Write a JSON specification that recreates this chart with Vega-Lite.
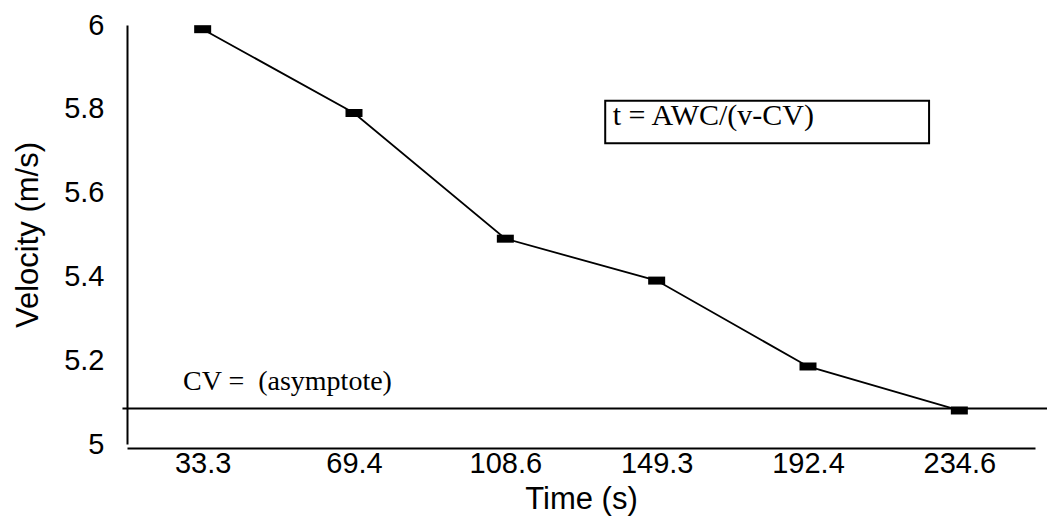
{
  "$schema": "https://vega.github.io/schema/vega-lite/v6.json",
  "width": 908,
  "height": 419,
  "autosize": "none",
  "padding": {"left": 127, "top": 25, "right": 12, "bottom": 78},
  "background": "white",
  "config": {
    "view": {"stroke": null},
    "font": "Liberation Sans",
    "axis": {
      "labelFont": "Liberation Sans",
      "titleFont": "Liberation Sans",
      "labelColor": "black",
      "titleColor": "black",
      "domainColor": "black",
      "domainWidth": 2,
      "titleFontWeight": "normal",
      "grid": false,
      "ticks": false
    }
  },
  "data": {
    "values": [
      {"time": "33.3", "velocity": 5.99},
      {"time": "69.4", "velocity": 5.79},
      {"time": "108.6", "velocity": 5.49},
      {"time": "149.3", "velocity": 5.39},
      {"time": "192.4", "velocity": 5.185},
      {"time": "234.6", "velocity": 5.08}
    ]
  },
  "layer": [
    {
      "encoding": {
        "x": {
          "field": "time",
          "type": "ordinal",
          "sort": null,
          "scale": {"type": "point", "padding": 0.5},
          "axis": {
            "title": "Time (s)",
            "labelAngle": 0,
            "labelFontSize": 29,
            "titleFontSize": 31,
            "labelPadding": 1,
            "titlePadding": 6,
            "offset": 4
          }
        },
        "y": {
          "field": "velocity",
          "type": "quantitative",
          "scale": {"domain": [5, 6], "nice": false, "zero": false},
          "axis": {
            "title": "Velocity (m/s)",
            "values": [5, 5.2, 5.4, 5.6, 5.8, 6],
            "format": "~f",
            "labelFontSize": 29,
            "titleFontSize": 31,
            "labelPadding": 23,
            "titlePadding": 19
          }
        }
      },
      "layer": [
        {"mark": {"type": "line", "color": "black", "strokeWidth": 1.8}},
        {"mark": {"type": "tick", "orient": "horizontal", "size": 17, "thickness": 8, "color": "black", "opacity": 1}}
      ]
    },
    {
      "data": {"values": [{"note": "CV = \u00a0(asymptote)", "formula": "t = AWC/(v-CV)"}]},
      "layer": [
        {
          "mark": {"type": "rule", "color": "black", "strokeWidth": 2, "clip": false},
          "encoding": {
            "x": {"datum": -0.03, "type": "quantitative", "scale": {"domain": [0, 6], "nice": false}, "axis": null},
            "x2": {"datum": 6.08},
            "y": {"datum": 5.085, "type": "quantitative"}
          }
        },
        {
          "mark": {"type": "rect", "filled": false, "stroke": "black", "strokeWidth": 2},
          "encoding": {
            "x": {"datum": 3.16, "type": "quantitative", "scale": {"domain": [0, 6], "nice": false}, "axis": null},
            "x2": {"datum": 5.30},
            "y": {"datum": 5.819, "type": "quantitative"},
            "y2": {"datum": 5.718}
          }
        },
        {
          "mark": {"type": "text", "font": "Liberation Serif", "fontSize": 28, "align": "left", "baseline": "alphabetic", "color": "black"},
          "encoding": {
            "x": {"datum": 0.37, "type": "quantitative", "scale": {"domain": [0, 6], "nice": false}, "axis": null},
            "y": {"datum": 5.129, "type": "quantitative"},
            "text": {"field": "note"}
          }
        },
        {
          "mark": {"type": "text", "font": "Liberation Serif", "fontSize": 30, "align": "left", "baseline": "alphabetic", "color": "black"},
          "encoding": {
            "x": {"datum": 3.21, "type": "quantitative", "scale": {"domain": [0, 6], "nice": false}, "axis": null},
            "y": {"datum": 5.762, "type": "quantitative"},
            "text": {"field": "formula"}
          }
        }
      ]
    }
  ],
  "resolve": {"scale": {"x": "independent"}, "axis": {"x": "independent"}}
}
